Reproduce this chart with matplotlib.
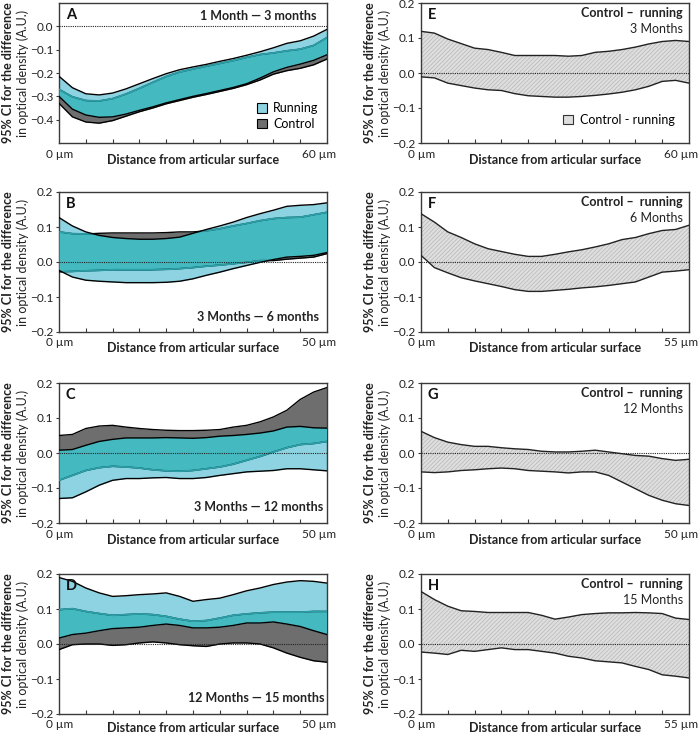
import numpy as np
import matplotlib
matplotlib.use("Agg")
import matplotlib.pyplot as plt
from matplotlib.patches import Patch

plt.rcParams['font.family'] = ['Lato', 'DejaVu Sans']
plt.rcParams['hatch.linewidth'] = 0.45
plt.rcParams['axes.unicode_minus'] = True

# ---------------- data (depth positions in µm) ----------------
depth60 = [0, 3, 6, 9, 12, 15, 18, 21, 24, 27, 30, 33, 36, 39, 42, 45, 48, 51, 54, 57, 60]
depth50 = [0, 2.5, 5, 7.5, 10, 12.5, 15, 17.5, 20, 22.5, 25, 27.5, 30, 32.5, 35, 37.5, 40, 42.5, 45, 47.5, 50]
depth55 = [0, 2.75, 5.5, 8.25, 11, 13.75, 16.5, 19.25, 22, 24.75, 27.5, 30.25, 33, 35.75, 38.5, 41.25, 44, 46.75, 49.5, 52.25, 55]

# A: 1 Month - 3 months
A_run_hi = [-0.214, -0.263, -0.289, -0.294, -0.286, -0.268, -0.246, -0.224, -0.203, -0.186, -0.174, -0.163, -0.150, -0.138, -0.124, -0.109, -0.092, -0.073, -0.062, -0.042, -0.013]
A_ctl_hi = [-0.270, -0.302, -0.318, -0.320, -0.310, -0.290, -0.266, -0.240, -0.215, -0.196, -0.183, -0.171, -0.159, -0.147, -0.133, -0.121, -0.114, -0.105, -0.098, -0.082, -0.048]
A_run_lo = [-0.300, -0.355, -0.380, -0.390, -0.388, -0.376, -0.360, -0.345, -0.328, -0.314, -0.300, -0.288, -0.275, -0.262, -0.246, -0.222, -0.195, -0.176, -0.162, -0.146, -0.122]
A_ctl_lo = [-0.330, -0.388, -0.410, -0.415, -0.404, -0.385, -0.366, -0.350, -0.332, -0.318, -0.304, -0.292, -0.279, -0.266, -0.250, -0.230, -0.205, -0.190, -0.180, -0.165, -0.140]

# B: 3 Months - 6 months
B_run_hi = [0.127, 0.103, 0.086, 0.076, 0.070, 0.067, 0.065, 0.065, 0.067, 0.071, 0.082, 0.093, 0.103, 0.114, 0.127, 0.138, 0.148, 0.159, 0.162, 0.164, 0.169]
B_ctl_hi = [0.086, 0.081, 0.080, 0.082, 0.083, 0.083, 0.083, 0.083, 0.084, 0.086, 0.086, 0.089, 0.095, 0.103, 0.110, 0.118, 0.124, 0.127, 0.128, 0.135, 0.142]
B_run_lo = [-0.024, -0.043, -0.052, -0.055, -0.057, -0.059, -0.059, -0.059, -0.058, -0.055, -0.048, -0.038, -0.029, -0.019, -0.010, -0.001, 0.007, 0.014, 0.016, 0.019, 0.027]
B_ctl_lo = [-0.028, -0.027, -0.025, -0.024, -0.022, -0.022, -0.022, -0.022, -0.021, -0.019, -0.016, -0.012, -0.009, -0.005, -0.001, 0.004, 0.004, 0.008, 0.011, 0.014, 0.024]

# C: 3 Months - 12 months
C_ctl_hi = [0.050, 0.053, 0.070, 0.077, 0.079, 0.074, 0.070, 0.067, 0.065, 0.064, 0.064, 0.065, 0.067, 0.074, 0.079, 0.089, 0.103, 0.122, 0.153, 0.174, 0.187]
C_run_hi = [0.008, 0.010, 0.022, 0.033, 0.039, 0.043, 0.043, 0.043, 0.044, 0.043, 0.042, 0.044, 0.048, 0.050, 0.053, 0.057, 0.063, 0.074, 0.076, 0.072, 0.071]
C_ctl_lo = [-0.078, -0.064, -0.050, -0.042, -0.038, -0.040, -0.043, -0.048, -0.051, -0.052, -0.050, -0.045, -0.040, -0.032, -0.021, -0.010, 0.003, 0.015, 0.024, 0.027, 0.033]
C_run_lo = [-0.130, -0.128, -0.111, -0.092, -0.078, -0.073, -0.073, -0.071, -0.070, -0.073, -0.073, -0.070, -0.064, -0.059, -0.054, -0.052, -0.050, -0.045, -0.045, -0.048, -0.051]

# D: 12 Months - 15 months
D_run_hi = [0.190, 0.179, 0.160, 0.146, 0.136, 0.138, 0.141, 0.143, 0.146, 0.136, 0.122, 0.127, 0.131, 0.141, 0.152, 0.160, 0.170, 0.177, 0.181, 0.179, 0.174]
D_ctl_hi = [0.098, 0.101, 0.093, 0.087, 0.082, 0.084, 0.086, 0.084, 0.079, 0.071, 0.065, 0.067, 0.074, 0.082, 0.086, 0.089, 0.091, 0.091, 0.091, 0.093, 0.093]
D_run_lo = [0.017, 0.027, 0.031, 0.038, 0.044, 0.046, 0.048, 0.053, 0.057, 0.053, 0.046, 0.046, 0.048, 0.053, 0.060, 0.060, 0.063, 0.057, 0.050, 0.038, 0.027]
D_ctl_lo = [-0.016, -0.002, 0.000, 0.000, -0.004, -0.002, 0.003, 0.006, 0.003, -0.002, -0.005, -0.007, 0.000, 0.003, 0.003, 0.000, -0.011, -0.026, -0.038, -0.048, -0.052]

# E-H: Control - running
E_hi = [0.119, 0.114, 0.097, 0.084, 0.071, 0.067, 0.059, 0.050, 0.050, 0.050, 0.050, 0.048, 0.050, 0.059, 0.062, 0.067, 0.074, 0.083, 0.090, 0.093, 0.090]
E_lo = [-0.011, -0.014, -0.029, -0.036, -0.043, -0.048, -0.050, -0.059, -0.065, -0.067, -0.069, -0.069, -0.067, -0.064, -0.060, -0.055, -0.048, -0.038, -0.024, -0.021, -0.029]
F_hi = [0.138, 0.114, 0.086, 0.070, 0.052, 0.038, 0.030, 0.022, 0.016, 0.016, 0.022, 0.029, 0.035, 0.043, 0.052, 0.064, 0.070, 0.081, 0.090, 0.093, 0.105]
F_lo = [0.019, -0.016, -0.031, -0.045, -0.054, -0.062, -0.070, -0.079, -0.084, -0.084, -0.081, -0.078, -0.074, -0.071, -0.067, -0.062, -0.057, -0.043, -0.029, -0.026, -0.022]
G_hi = [0.062, 0.044, 0.031, 0.024, 0.019, 0.019, 0.015, 0.012, 0.010, 0.005, 0.003, 0.003, 0.005, 0.008, 0.003, -0.002, -0.007, -0.009, -0.016, -0.021, -0.018]
G_lo = [-0.054, -0.056, -0.054, -0.050, -0.048, -0.045, -0.043, -0.045, -0.050, -0.052, -0.054, -0.057, -0.054, -0.054, -0.064, -0.083, -0.102, -0.121, -0.135, -0.145, -0.150]
H_hi = [0.150, 0.127, 0.108, 0.095, 0.093, 0.090, 0.090, 0.090, 0.090, 0.082, 0.071, 0.077, 0.084, 0.087, 0.089, 0.089, 0.090, 0.089, 0.087, 0.074, 0.070]
H_lo = [-0.023, -0.026, -0.030, -0.018, -0.021, -0.016, -0.011, -0.016, -0.016, -0.021, -0.026, -0.035, -0.040, -0.048, -0.051, -0.054, -0.064, -0.073, -0.088, -0.092, -0.097]

yticks_A = [-0.4, -0.3, -0.2, -0.1, 0.0]
yticks_std = [-0.2, -0.1, 0.0, 0.1, 0.2]

# ---------------- styles ----------------
LBLUE = '#8dd3e1'
TEAL = '#45b9c0'
TEAL_LINE = '#2a9fa8'
GREY = '#6e6e6e'
HATCH_FACE = '#dedede'
HATCH_COL = '#b4b4b4'
SPINE = '#3a3a3a'

W, H = 700, 734
fig = plt.figure(figsize=(W / 100, H / 100), dpi=100)

col_left = [59, 421]
col_w = 268
row_top = [3, 192, 383, 574]
row_h = 140


def make_ax(col, row):
    l = col_left[col] / W
    b = 1 - (row_top[row] + row_h) / H
    return fig.add_axes([l, b, col_w / W, row_h / H])


def fmt(v):
    s = f"{v:.1f}"
    if s.startswith('-'):
        s = '\u2212' + s[1:]
    if s == '\u22120.0':
        s = '0.0'
    return s


def style_ax(ax, L, ylim, yticks, xlabel_right, bottom_row=False):
    ax.set_xlim(0, L)
    ax.set_ylim(*ylim)
    ax.set_xticks([L * i / 10 for i in range(1, 10)])
    ax.set_xticklabels([])
    ax.tick_params(axis='x', direction='in', length=3, width=0.8, color=SPINE)
    ax.set_yticks(yticks)
    ax.set_yticklabels([fmt(v) for v in yticks], fontsize=8.5, color='#222222')
    ax.tick_params(axis='y', direction='out', length=2.5, width=0.8, color=SPINE, pad=1.5)
    for sp in ax.spines.values():
        sp.set_color(SPINE)
        sp.set_linewidth(1.0)
    ax.axhline(0, color='#222222', lw=0.8, ls=(0, (1, 1)), zorder=20)
    ax.text(-13 / col_w, -11 / row_h, '0 \u00b5m', transform=ax.transAxes, ha='left', va='center',
            fontsize=8.5, color='#222222')
    ax.text(1 + 9 / col_w, -11 / row_h, xlabel_right, transform=ax.transAxes, ha='right', va='center',
            fontsize=8.5, color='#222222')
    dy = -13.5 if bottom_row else -16.5
    ax.text(0.5, dy / row_h, 'Distance from articular surface', transform=ax.transAxes,
            ha='center', va='center', fontsize=9, fontweight='bold', color='#222222')
    # y-axis label (two lines)
    ax.text(-51 / col_w, 0.5, '95% CI for the difference', transform=ax.transAxes, rotation=90,
            ha='center', va='center', fontsize=9, fontweight='bold', color='#222222')
    ax.text(-36 / col_w, 0.5, 'in optical density (A.U.)', transform=ax.transAxes, rotation=90,
            ha='center', va='center', fontsize=9, color='#222222')


def draw_compare(ax, x, run_lo, run_hi, ctl_lo, ctl_hi):
    x = np.asarray(x)
    ax.fill_between(x, ctl_lo, ctl_hi, color=GREY, lw=0, zorder=1)
    run_poly = ax.fill_between(x, run_lo, run_hi, color=LBLUE, lw=0, zorder=2)
    clip = run_poly.get_paths()[0]
    ov = ax.fill_between(x, ctl_lo, ctl_hi, color=TEAL, lw=0, zorder=3)
    ov.set_clip_path(clip, ax.transData)
    for y in (ctl_lo, ctl_hi):
        ax.plot(x, y, color='black', lw=1.0, zorder=4)
        ln, = ax.plot(x, y, color=TEAL_LINE, lw=1.3, zorder=5)
        ln.set_clip_path(clip, ax.transData)
    for y in (run_lo, run_hi):
        ax.plot(x, y, color='black', lw=1.0, zorder=6)


def draw_diff(ax, x, lo, hi):
    x = np.asarray(x)
    ax.fill_between(x, lo, hi, facecolor=HATCH_FACE, edgecolor=HATCH_COL, hatch='////////', lw=0, zorder=1)
    ax.plot(x, lo, color='#222222', lw=1.0, zorder=4)
    ax.plot(x, hi, color='#222222', lw=1.0, zorder=4)


def letter(ax, s):
    ax.text(7 / col_w, 1 - 12 / row_h, s, transform=ax.transAxes, ha='left', va='center',
            fontsize=10.5, fontweight='bold', color='#111111', zorder=30)


# ---------------- left column ----------------
axA = make_ax(0, 0)
draw_compare(axA, depth60, A_run_lo, A_run_hi, A_ctl_lo, A_ctl_hi)
style_ax(axA, 60, (-0.5, 0.1), yticks_A, '60 \u00b5m')
letter(axA, 'A')
axA.text(1 - 10 / col_w, 1 - 13 / row_h, '1 Month \u2014 3 months', transform=axA.transAxes,
         ha='right', va='center', fontsize=9, fontweight='bold', color='#222222')
axA.legend(handles=[Patch(facecolor=LBLUE, edgecolor='black', lw=0.8, label='Running'),
                    Patch(facecolor=GREY, edgecolor='black', lw=0.8, label='Control')],
           loc='lower right', bbox_to_anchor=(1.0, 0.03), frameon=False, fontsize=9,
           handlelength=0.8, handleheight=0.8, handletextpad=0.5, labelspacing=0.3, borderaxespad=0.3)

axB = make_ax(0, 1)
draw_compare(axB, depth50, B_run_lo, B_run_hi, B_ctl_lo, B_ctl_hi)
style_ax(axB, 50, (-0.2, 0.2), yticks_std, '50 \u00b5m')
letter(axB, 'B')
axB.text(1 - 8 / col_w, 15 / row_h, '3 Months \u2014 6 months', transform=axB.transAxes,
         ha='right', va='center', fontsize=9, fontweight='bold', color='#222222')

axC = make_ax(0, 2)
draw_compare(axC, depth50, C_run_lo, C_run_hi, C_ctl_lo, C_ctl_hi)
style_ax(axC, 50, (-0.2, 0.2), yticks_std, '50 \u00b5m')
letter(axC, 'C')
axC.text(1 - 4 / col_w, 16 / row_h, '3 Months \u2014 12 months', transform=axC.transAxes,
         ha='right', va='center', fontsize=9, fontweight='bold', color='#222222')

axD = make_ax(0, 3)
draw_compare(axD, depth50, D_run_lo, D_run_hi, D_ctl_lo, D_ctl_hi)
style_ax(axD, 50, (-0.2, 0.2), yticks_std, '50 \u00b5m', bottom_row=True)
letter(axD, 'D')
axD.text(1 - 3 / col_w, 16 / row_h, '12 Months \u2014 15 months', transform=axD.transAxes,
         ha='right', va='center', fontsize=9, fontweight='bold', color='#222222')

# ---------------- right column ----------------
right = [('E', E_lo, E_hi, depth60, '60 \u00b5m', '3 Months'),
         ('F', F_lo, F_hi, depth55, '55 \u00b5m', '6 Months'),
         ('G', G_lo, G_hi, depth50, '50 \u00b5m', '12 Months'),
         ('H', H_lo, H_hi, depth55, '55 \u00b5m', '15 Months')]
for r, (lab, lo, hi, x, xr, months) in enumerate(right):
    ax = make_ax(1, r)
    draw_diff(ax, x, lo, hi)
    style_ax(ax, x[-1], (-0.2, 0.2), yticks_std, xr, bottom_row=(r == 3))
    letter(ax, lab)
    ax.text(1 - 6 / col_w, 1 - 10 / row_h, 'Control \u2013  running', transform=ax.transAxes,
            ha='right', va='center', fontsize=9, fontweight='bold', color='#222222')
    ax.text(1 - 6 / col_w, 1 - 26 / row_h, months, transform=ax.transAxes,
            ha='right', va='center', fontsize=9, color='#222222')
    if lab == 'E':
        ax.legend(handles=[Patch(facecolor=HATCH_FACE, edgecolor='#333333', lw=0.8, label='Control - running')],
                  loc='lower right', bbox_to_anchor=(0.98, 0.06), frameon=False, fontsize=9,
                  handlelength=0.8, handleheight=0.8, handletextpad=0.6, borderaxespad=0.3)

fig.savefig('out.png', dpi=100)
